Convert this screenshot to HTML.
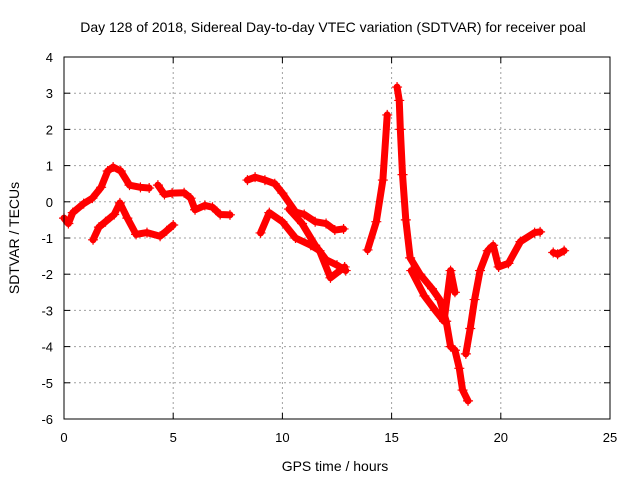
<!DOCTYPE html>
<html><head><meta charset="utf-8"><style>
body{margin:0;background:#fff}
svg{display:block;font-family:"Liberation Sans",sans-serif}
</style></head><body>
<svg id="chart" width="640" height="480">
<text x="333" y="32" text-anchor="middle" font-size="14">Day 128 of 2018, Sidereal Day-to-day VTEC variation (SDTVAR) for receiver poal</text>
<text x="335" y="471" text-anchor="middle" font-size="14">GPS time / hours</text>
<text transform="translate(19,238) rotate(-90)" text-anchor="middle" font-size="14">SDTVAR / TECUs</text>
<g id="grid"></g><g id="marks"></g>
<rect x="64" y="57" width="546" height="362" fill="none" stroke="#000"/>
</svg>
<script>
const xTicks=[0,5,10,15,20,25];
const yTicks=[4,3,2,1,0,-1,-2,-3,-4,-5,-6];
const segA=[[0,-0.45],[0.2,-0.6],[0.4,-0.3],[0.9,-0.05],[1.3,0.1],[1.7,0.4],[2.0,0.85],[2.25,0.96],[2.6,0.85],[3.0,0.46],[3.5,0.4],[3.9,0.38]];
const segB=[[4.3,0.46],[4.6,0.2],[4.95,0.24],[5.5,0.25],[5.8,0.1],[6.0,-0.22],[6.45,-0.1],[6.8,-0.15],[7.15,-0.35],[7.6,-0.36]];
const segC=[[1.33,-1.05],[1.6,-0.7],[1.9,-0.55],[2.3,-0.35],[2.56,-0.03],[2.9,-0.45],[3.3,-0.9],[3.8,-0.85],[4.4,-0.95],[4.7,-0.8],[5.0,-0.64]];
const segD=[[8.4,0.6],[8.75,0.68],[9.2,0.6],[9.65,0.5],[10.0,0.24],[10.6,-0.28],[11.0,-0.35],[11.5,-0.55],[12.0,-0.6],[12.4,-0.78],[12.8,-0.75]];
const segE=[[9.0,-0.86],[9.4,-0.3],[10.0,-0.55],[10.6,-1.0],[11.3,-1.2],[11.7,-1.35],[12.2,-2.1],[12.85,-1.8]];
const segF=[[10.3,-0.2],[10.9,-0.6],[11.5,-1.2],[12.0,-1.6],[12.5,-1.75],[12.9,-1.9]];
const segG=[[13.9,-1.33],[14.3,-0.55],[14.6,0.6],[14.8,2.4]];
const segH=[[15.25,3.17],[15.35,2.8],[15.4,2.0],[15.5,0.75],[15.65,-0.5],[15.85,-1.55],[16.3,-2.0],[16.85,-2.4],[17.2,-2.7],[17.5,-3.3],[17.7,-4.0],[17.9,-4.1],[18.1,-4.6],[18.25,-5.2],[18.5,-5.5]];
const segH2=[[15.9,-1.9],[16.5,-2.6],[17.0,-3.0],[17.4,-3.3],[17.7,-1.9],[17.9,-2.5]];
const segH3=[[18.4,-4.2],[18.6,-3.5],[18.8,-2.7],[19.05,-1.9],[19.4,-1.35],[19.65,-1.2],[19.9,-1.8],[20.35,-1.7],[20.9,-1.1],[21.55,-0.85],[21.8,-0.83]];
const segI=[[22.4,-1.4],[22.6,-1.45],[22.9,-1.35]];
const series=[segA,segB,segC,segD,segE,segF,segG,segH,segH2,segH3,segI];
const X=h=>64+h*546/25, Y=v=>57+(4-v)*36.2;
const NS="http://www.w3.org/2000/svg";
const grid=document.getElementById('grid'), marks=document.getElementById('marks');
function mk(t,a,p){const e=document.createElementNS(NS,t);for(const k in a)e.setAttribute(k,a[k]);p.appendChild(e);return e;}
xTicks.forEach(t=>{const x=X(t);
 if(t>0&&t<25){const l=mk('line',{x1:x,y1:57,x2:x,y2:419,stroke:'#a0a0a0','stroke-dasharray':'2,3'},grid);
 
 }
 mk('line',{x1:x,y1:419,x2:x,y2:413,stroke:'#000'},grid);mk('line',{x1:x,y1:57,x2:x,y2:63,stroke:'#000'},grid);
 const tx=mk('text',{x:x,y:442,'text-anchor':'middle','font-size':13},grid);tx.textContent=t;
 
 });
yTicks.forEach(t=>{const y=Y(t);
 if(t<4&&t>-6){const l=mk('line',{x1:64,y1:y,x2:610,y2:y,stroke:'#a0a0a0','stroke-dasharray':'2,3'},grid);
 
 }
 mk('line',{x1:64,y1:y,x2:70,y2:y,stroke:'#000'},grid);mk('line',{x1:610,y1:y,x2:604,y2:y,stroke:'#000'},grid);
 const tx=mk('text',{x:53,y:y+5,'text-anchor':'end','font-size':13},grid);tx.textContent=t;
 
 });
series.forEach(s=>{
 const pl=mk('polyline',{points:s.map(p=>X(p[0])+','+Y(p[1])).join(' '),fill:'none',stroke:'#f00','stroke-width':7,'stroke-linejoin':'round','stroke-linecap':'round'},marks);
 
 
 s.forEach(p=>{const x=X(p[0]),y=Y(p[1]);
  const m=mk('path',{d:`M${x-5},${y}h10M${x},${y-5}v10`,stroke:'#f00','stroke-width':1.2},marks);
  
  });
});
</script>
</body></html>
